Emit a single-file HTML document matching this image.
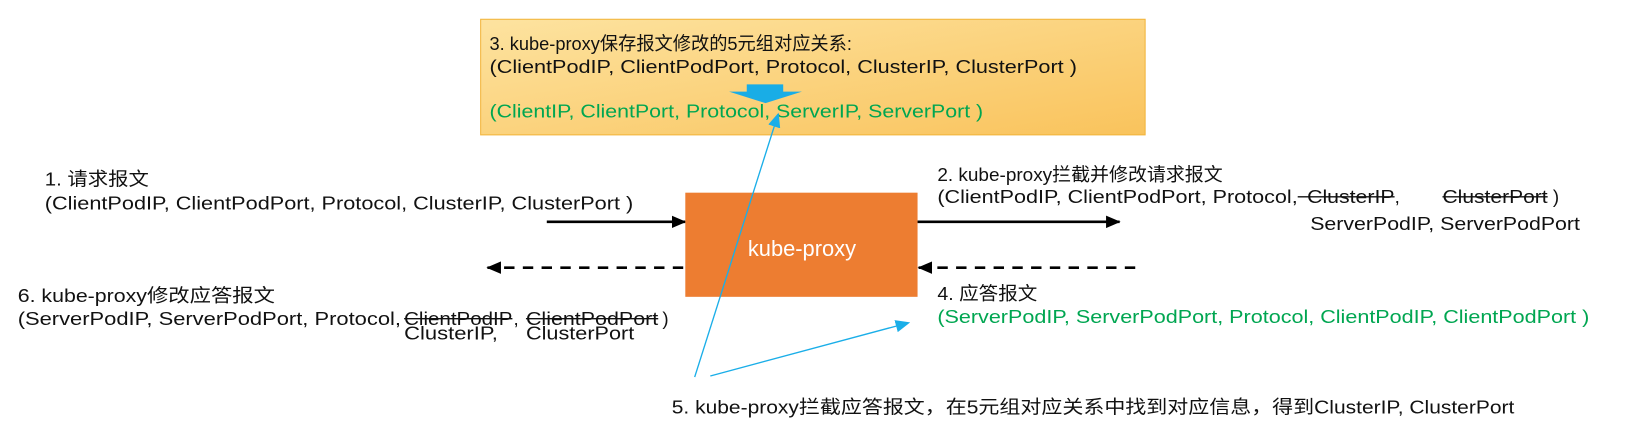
<!DOCTYPE html>
<html><head><meta charset="utf-8"><style>
html,body{margin:0;padding:0;background:#fff;}
svg{display:block;}
text{font-family:"Liberation Sans","Noto Sans CJK SC",sans-serif;font-size:18px;fill:#111;}
.g{fill:#00a651;}
</style></head><body>
<svg width="1633" height="440" viewBox="0 0 1633 440" xmlns="http://www.w3.org/2000/svg">
<defs>
<linearGradient id="yg" x1="0" y1="0" x2="1" y2="1">
<stop offset="0" stop-color="#fde3a0"/><stop offset="1" stop-color="#f9c35c"/>
</linearGradient>
<marker id="ah" markerWidth="14" markerHeight="12" refX="13" refY="6" orient="auto" markerUnits="userSpaceOnUse"><path d="M0,0 L14,6 L0,12 z" fill="#000"/></marker>
<marker id="bh" markerWidth="14" markerHeight="12" refX="12" refY="6" orient="auto" markerUnits="userSpaceOnUse"><path d="M0,0 L14,6 L0,12 z" fill="#1aaee8"/></marker>
</defs>
<g transform="scale(1.0415)">
<rect x="461.5" y="18.5" width="638" height="111" fill="url(#yg)" stroke="#f2b43a"/>
<text x="470" y="48" textLength="348" lengthAdjust="spacingAndGlyphs">3. kube-proxy保存报文修改的5元组对应关系:</text>
<text x="470" y="70" textLength="564" lengthAdjust="spacingAndGlyphs">(ClientPodIP, ClientPodPort, Protocol, ClusterIP, ClusterPort )</text>
<path d="M717,81 H752 V88 H770 L735,99 L700,88 H717 Z" fill="#19ade6"/>
<text class="g" x="470" y="113" textLength="474" lengthAdjust="spacingAndGlyphs">(ClientIP, ClientPort, Protocol, ServerIP, ServerPort )</text>

<text x="43" y="178" textLength="100" lengthAdjust="spacingAndGlyphs">1. 请求报文</text>
<text x="43" y="201" textLength="565" lengthAdjust="spacingAndGlyphs">(ClientPodIP, ClientPodPort, Protocol, ClusterIP, ClusterPort )</text>
<line x1="525" y1="213" x2="658" y2="213" stroke="#000" stroke-width="2.5" marker-end="url(#ah)"/>

<rect x="658" y="185" width="223" height="100" fill="#ed7d31"/>
<text x="770" y="246" text-anchor="middle" style="fill:#fff;font-size:21px">kube-proxy</text>

<line x1="656" y1="257" x2="468" y2="257" stroke="#000" stroke-width="2.5" stroke-dasharray="10,8" marker-end="url(#ah)"/>
<line x1="1090" y1="257" x2="882" y2="257" stroke="#000" stroke-width="2.5" stroke-dasharray="10,8" marker-end="url(#ah)"/>
<line x1="881" y1="213" x2="1075" y2="213" stroke="#000" stroke-width="2.5" marker-end="url(#ah)"/>

<text x="17" y="290" textLength="247" lengthAdjust="spacingAndGlyphs">6. kube-proxy修改应答报文</text>
<text x="17" y="312" textLength="368" lengthAdjust="spacingAndGlyphs">(ServerPodIP, ServerPodPort, Protocol,</text>
<text x="388" y="312" textLength="104" lengthAdjust="spacingAndGlyphs">ClientPodIP</text>
<text x="493" y="312">,</text>
<text x="505" y="312" textLength="127" lengthAdjust="spacingAndGlyphs">ClientPodPort</text>
<text x="636" y="312">)</text>
<line x1="388" y1="306" x2="492" y2="306" stroke="#111" stroke-width="1.3"/>
<line x1="505" y1="306" x2="632" y2="306" stroke="#111" stroke-width="1.3"/>
<text x="388" y="326" textLength="90" lengthAdjust="spacingAndGlyphs">ClusterIP,</text>
<text x="505" y="326" textLength="104" lengthAdjust="spacingAndGlyphs">ClusterPort</text>

<text x="900" y="174" textLength="274" lengthAdjust="spacingAndGlyphs">2. kube-proxy拦截并修改请求报文</text>
<text x="900" y="195" textLength="346" lengthAdjust="spacingAndGlyphs">(ClientPodIP, ClientPodPort, Protocol,</text>
<text x="1255" y="195" textLength="84" lengthAdjust="spacingAndGlyphs">ClusterIP</text>
<text x="1339" y="195">,</text>
<text x="1385" y="195" textLength="101" lengthAdjust="spacingAndGlyphs">ClusterPort</text>
<text x="1491" y="195">)</text>
<line x1="1246" y1="189" x2="1339" y2="189" stroke="#111" stroke-width="1.3"/>
<line x1="1385" y1="189" x2="1486" y2="189" stroke="#111" stroke-width="1.3"/>
<text x="1258" y="221" textLength="259" lengthAdjust="spacingAndGlyphs">ServerPodIP, ServerPodPort</text>

<text x="900" y="288" textLength="96" lengthAdjust="spacingAndGlyphs">4. 应答报文</text>
<text class="g" x="900" y="310" textLength="626" lengthAdjust="spacingAndGlyphs">(ServerPodIP, ServerPodPort, Protocol, ClientPodIP, ClientPodPort )</text>

<line x1="667" y1="362" x2="747" y2="110" stroke="#1aaee8" stroke-width="1.3" marker-end="url(#bh)"/>
<line x1="682" y1="361" x2="872" y2="310" stroke="#1aaee8" stroke-width="1.3" marker-end="url(#bh)"/>

<text x="645" y="397" textLength="809" lengthAdjust="spacingAndGlyphs">5. kube-proxy拦截应答报文，在5元组对应关系中找到对应信息，得到ClusterIP, ClusterPort</text>
</g>
</svg>
</body></html>
